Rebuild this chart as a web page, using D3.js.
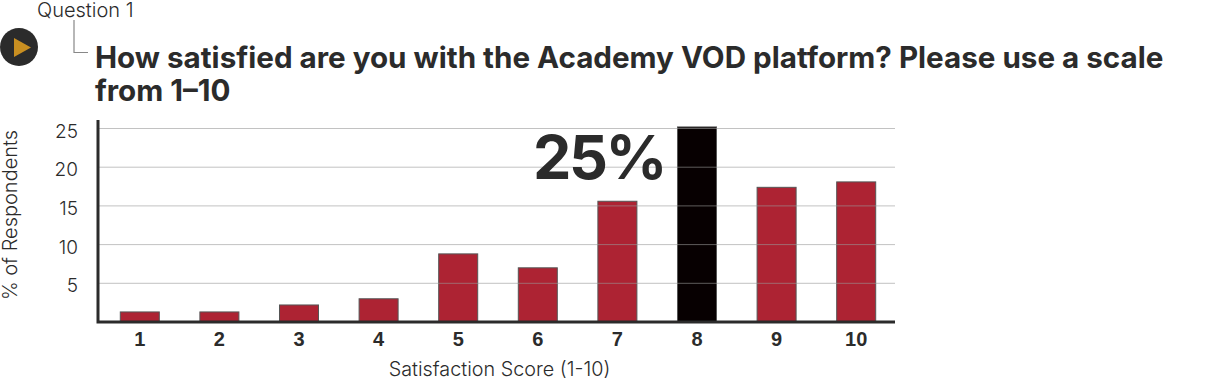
<!DOCTYPE html>
<html>
<head>
<meta charset="utf-8">
<script src="https://cdn.jsdelivr.net/npm/d3@7"></script>
<style>
body { margin: 0; background: #fff; }
svg { display: block; }
text { font-family: Inter, sans-serif; fill: #2b2b2b; }
</style>
</head>
<body>
<div id="chart"></div>
<script>
const scores = ["1", "2", "3", "4", "5", "6", "7", "8", "9", "10"];
const percents = [1.3, 1.3, 2.2, 3.0, 8.8, 7.0, 15.6, 25.2, 17.4, 18.1];
const yTicks = [5, 10, 15, 20, 25];
const titleLines = ["How satisfied are you with the Academy VOD platform? Please use a scale", "from 1\u201310"];
const highlightScore = "8";

const svg = d3.select("#chart")
    .append("svg")
    .attr("width", 1213)
    .attr("height", 380);

const xScale = d3.scaleBand().domain(scores).range([100, 896]).paddingInner(0.51).paddingOuter(0.255);
const yScale = d3.scaleLinear().domain([0, 25]).range([322, 128.5]);

// bars first, gridlines go over them like in the original
svg.selectAll(".bar")
    .data(scores)
    .enter()
    .append("rect")
    .attr("class", "bar")
    .attr("x", d => xScale(d))
    .attr("y", (d, i) => yScale(percents[i]))
    .attr("width", xScale.bandwidth())
    .attr("height", (d, i) => yScale(0) - yScale(percents[i]))
    .attr("fill", d => d === highlightScore ? "#070001" : "#ad2333")
    .attr("stroke", "#555")
    .attr("stroke-width", 1);

svg.selectAll(".grid")
    .data(yTicks)
    .enter()
    .append("line")
    .attr("class", "grid")
    .attr("x1", 98)
    .attr("x2", 895)
    .attr("y1", d => yScale(d))
    .attr("y2", d => yScale(d))
    .attr("stroke", "#999")
    .attr("stroke-opacity", 0.6)
    .attr("stroke-width", 1);

// axes
const yAxis = d3.axisLeft(yScale).tickValues(yTicks).tickSize(0).tickPadding(20);
svg.append("g")
    .attr("class", "y-axis")
    .attr("transform", "translate(98,0)")
    .call(yAxis)
    .call(g => g.select(".domain").remove())
    .call(g => g.selectAll("text")
        .attr("dy", "0.45em")
        .style("font-size", "19px")
        .style("font-weight", "300")
        .style("font-family", "Inter, sans-serif")
        .attr("fill", "#2b2b2b"));

const xAxis = d3.axisBottom(xScale).tickSize(0).tickPadding(10);
svg.append("g")
    .attr("class", "x-axis")
    .attr("transform", "translate(0,322)")
    .call(xAxis)
    .call(g => g.select(".domain").remove())
    .call(g => g.selectAll("text")
        .style("font-size", "20px")
        .style("font-weight", "700")
        .style("font-family", "'Liberation Sans', sans-serif")
        .attr("fill", "#2b2b2b"));

svg.append("path")
    .attr("d", d3.line()([[98, 120], [98, 322], [895, 322]]))
    .attr("fill", "none")
    .attr("stroke", "#2b2b2b")
    .attr("stroke-width", 3);

// axis labels
svg.append("text")
    .attr("text-anchor", "middle")
    .attr("x", 499.5)
    .attr("y", 376)
    .style("font-size", "19.8px")
    .style("font-weight", "300")
    .text("Satisfaction Score (1-10)");

svg.append("text")
    .attr("text-anchor", "middle")
    .attr("transform", "rotate(-90)")
    .attr("x", -215)
    .attr("y", 17)
    .style("font-size", "20px")
    .style("font-weight", "300")
    .text("% of Respondents");

// big callout
svg.append("text")
    .attr("x", 533)
    .attr("y", 179)
    .style("font-size", "61px")
    .style("font-weight", "700")
    .style("letter-spacing", "-2.5px")
    .text("25%");

// header
svg.selectAll(".title")
    .data(titleLines)
    .enter()
    .append("text")
    .attr("class", "title")
    .attr("x", 95)
    .attr("y", (d, i) => 68 + i * 33)
    .style("font-size", "29.6px")
    .style("font-weight", "700")
    .text(d => d);

svg.append("text")
    .attr("x", 37)
    .attr("y", 17)
    .style("font-size", "20px")
    .style("font-weight", "300")
    .text("Question 1");

svg.append("path")
    .attr("d", d3.line()([[74, 20], [74, 52.5], [88, 52.5]]))
    .attr("fill", "none")
    .attr("stroke", "#888")
    .attr("stroke-width", 1.2);

// play button
svg.append("circle")
    .attr("cx", 19)
    .attr("cy", 47)
    .attr("r", 19)
    .attr("fill", "#2b2b2b");

svg.append("path")
    .attr("d", d3.line()([[14, 38], [31, 47.5], [14, 57]]) + "Z")
    .attr("fill", "#c98f21");
</script>
</body>
</html>
